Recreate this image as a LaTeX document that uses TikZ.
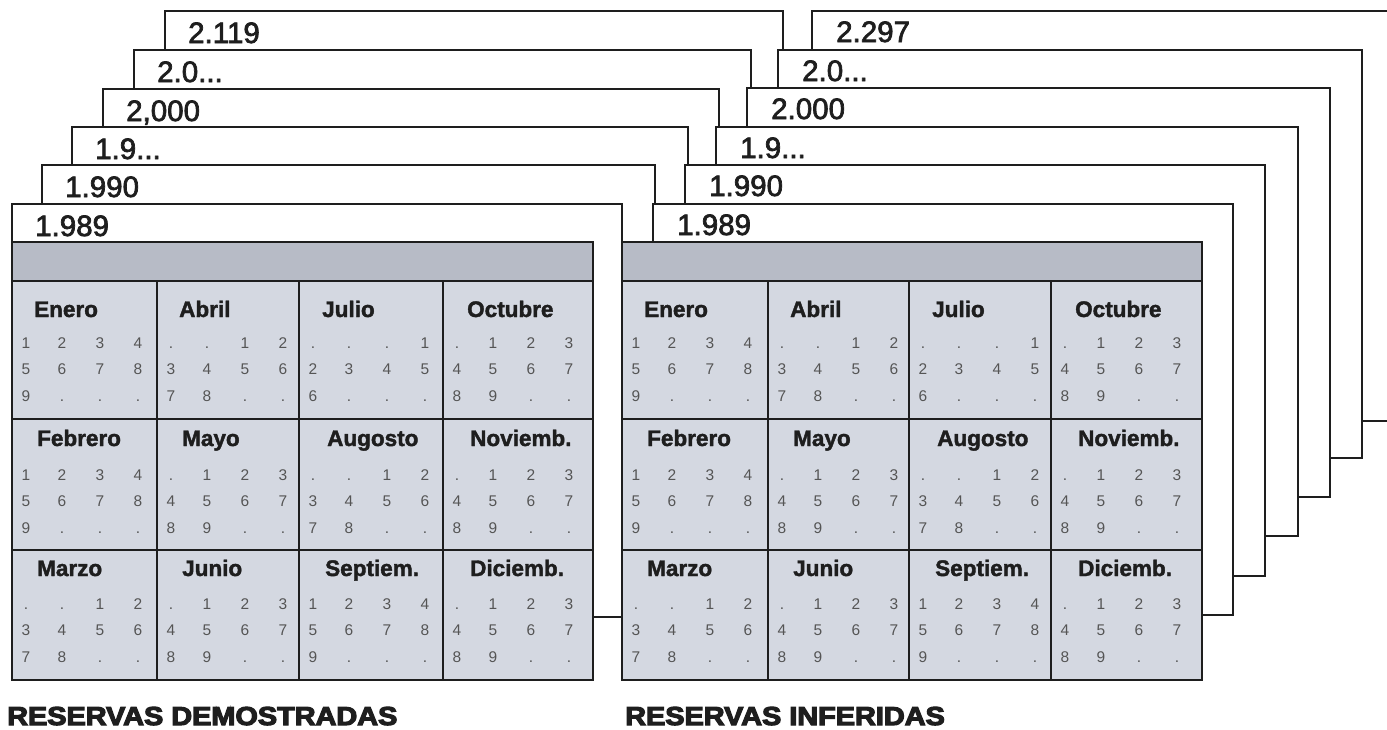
\documentclass[tikz,border=0pt]{standalone}
\usepackage{fontspec}
\setmainfont{Liberation Sans}
\newcommand\threedots{.{}.{}.}
\newcommand\heavytext[2]{\special{pdf:literal direct #1 w 2 Tr}#2\special{pdf:literal direct 0 Tr}}
\definecolor{hdr}{HTML}{B7BBC6}
\definecolor{cellc}{HTML}{D4D8E1}
\definecolor{numc}{HTML}{555555}
\definecolor{ink}{HTML}{1E1E1E}
\begin{document}
\begin{tikzpicture}[x=1pt,y=-1pt,
  card/.style={draw=ink, line width=2pt, fill=white},
  gridln/.style={draw=ink, line width=2.6pt},
  yearlbl/.style={anchor=base west, inner sep=0pt, text=ink, font=\fontsize{29.5}{29.5}\selectfont},
  monthlbl/.style={anchor=base west, inner sep=0pt, text=ink, font=\bfseries\fontsize{22.5}{22.5}\selectfont},
  numlbl/.style={anchor=base, inner sep=0pt, text=numc, font=\fontsize{15.5}{15.5}\selectfont},
  titlelbl/.style={anchor=base west, inner sep=0pt, text=ink}]
\useasboundingbox (0,0) rectangle (1387,729);
\clip (0,0) rectangle (1387,729);
% stacked year cards, back to front
\foreach \k/\la/\ta/\ra/\ba/\txa/\lb/\tb/\rb/\bb/\txb in {
  5/165/11/783/422/2.119/812/11/1400/421/2.297,
  4/134/50/751/461/2.0\threedots/778/50/1362/458/2.0\threedots,
  3/103/89/719/500/2{,}000/747/88/1330/497/2.000,
  2/72/127/688/539/1.9\threedots/716/127/1298/536/1.9\threedots,
  1/42/165/655/578/1.990/685/165/1265/576/1.990,
  0/12/204/622/617/1.989/653/204/1233/615/1.989} {
  \draw[card] (\la,\ta) rectangle (\ra,\ba);
  \node[yearlbl] (yl\k) at (\la+23,\ta+32) {\heavytext{0.7}{\txa}};
  \draw[card] (\lb,\tb) rectangle (\rb,\bb);
  \node[yearlbl] (yr\k) at (\lb+24,\tb+31) {\heavytext{0.7}{\txb}};
}
% calendars
\foreach \cal/\xa/\xb/\xc/\xd/\xe in {L/12/157/299/443/593, R/622/768/909/1051/1202} {
  \fill[cellc] (\xa,242) rectangle (\xe,680);
  \fill[hdr] (\xa,242) rectangle (\xe,281);
  \draw[gridln] (\xa,242) rectangle (\xe,680);
  \draw[gridln] (\xa,281) -- (\xe,281);
  \draw[gridln] (\xa,419) -- (\xe,419);
  \draw[gridln] (\xa,550) -- (\xe,550);
  \foreach \xx in {\xb,\xc,\xd} \draw[gridln] (\xx,281) -- (\xx,680);
  \foreach \mi/\col/\row/\mname/\moff/\st/\nd in {
    1/0/0/Enero/22/0/9, 2/1/0/Abril/22/2/8, 3/2/0/Julio/23/3/6, 4/3/0/Octubre/24/1/9,
    5/0/1/Febrero/25/0/9, 6/1/1/Mayo/25/1/9, 7/2/1/Augosto/28/2/8, 8/3/1/Noviemb./27/1/9,
    9/0/2/Marzo/25/2/8, 10/1/2/Junio/25/1/9, 11/2/2/Septiem./26/0/9, 12/3/2/Diciemb./27/1/9} {
    \pgfmathsetmacro\cx{{\xa,\xb,\xc,\xd}[\col]}
    \pgfmathsetmacro\mb{{317,446,576}[\row]}
    \pgfmathsetmacro\nb{{348,480,609}[\row]}
    \node[monthlbl] (\cal-m\mi) at (\cx+\moff,\mb) {\heavytext{0.4}{\mname}};
    \foreach \pp in {0,...,11} {
      \pgfmathtruncatemacro\dd{\pp-\st+1}
      \pgfmathtruncatemacro\pc{mod(\pp,4)}
      \pgfmathtruncatemacro\pr{div(\pp,4)}
      \pgfmathsetmacro\nx{\cx+{14,50,88,126}[\pc]}
      \pgfmathsetmacro\ny{\nb+26.5*\pr}
      \ifnum\dd<1 \def\numtxt{.}\else\ifnum\dd>\nd \def\numtxt{.}\else\edef\numtxt{\dd}\fi\fi
      \node[numlbl] (\cal-\mi-\pp) at (\nx,\ny) {\numtxt};
    }
  }
}
% titles
\node[titlelbl] (tdem) at (7,725) {\scalebox{1.11}[1]{\bfseries\fontsize{26}{26}\selectfont\heavytext{1.1}{RESERVAS DEMOSTRADAS}}};
\node[titlelbl] (tinf) at (625,725) {\scalebox{1.11}[1]{\bfseries\fontsize{26}{26}\selectfont\heavytext{1.1}{RESERVAS INFERIDAS}}};
\end{tikzpicture}
\end{document}
